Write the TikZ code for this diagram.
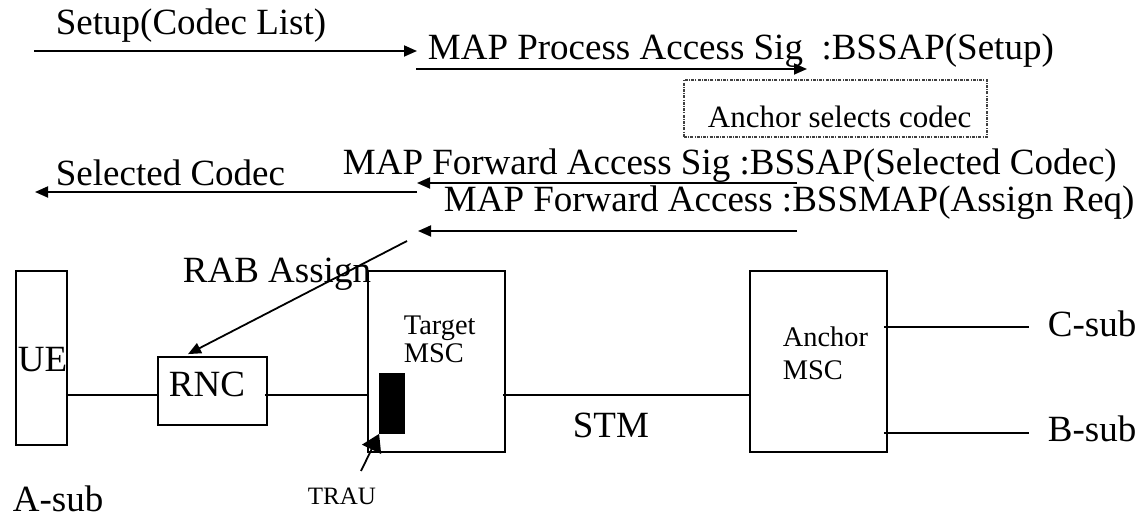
\documentclass[tikz,border=0pt]{standalone}
\usepackage{fontspec}
\setmainfont{Liberation Serif}
\usetikzlibrary{arrows.meta}

\begin{document}
\begin{tikzpicture}[x=0.5pt,y=-0.5pt,line width=0.9pt,
  txt/.style={font=\fontsize{18.5}{22}\selectfont,inner sep=0pt,anchor=base west},
  sml/.style={font=\fontsize{14.2}{14}\selectfont,inner sep=0pt,anchor=base west,align=left},
  box/.style={draw,inner sep=0pt},
  msg/.style={-{Triangle[length=6.5pt,width=5.5pt]}},
  dotbox/.style={draw=black!75,line width=0.6pt,inner sep=0pt,
    dash pattern=on 1.5pt off 0.6pt on 0.5pt off 0.6pt}]
  \useasboundingbox (0,0) rectangle (1148,518);

  % Network elements
  \node[box,minimum width=25.5pt,minimum height=87pt] (ue) at (41.5,358) {};
  \node[box,minimum width=54.5pt,minimum height=34pt] (rnc) at (212.5,391) {};
  \node[box,minimum width=68.5pt,minimum height=90.5pt] (tgt) at (436.5,361.5) {};
  \node[box,minimum width=68.5pt,minimum height=90.5pt] (anc) at (818.5,361.5) {};
  \node[box,fill=black,minimum width=12pt,minimum height=29.5pt] (trau) at (392,403.5) {};

  \node[txt] (uelbl) at (17,372) {UE};
  \node[txt] (rnclbl) at (168,397) {RNC};
  \node[sml] (tgtlbl) at (403,363) {Target\\MSC};
  \node[sml,font=\fontsize{14.2}{16.5}\selectfont] (anclbl) at (782,380) {Anchor\\MSC};
  \node[txt,font=\fontsize{12.5}{14}\selectfont] (traulbl) at (307,505) {TRAU};
  \node[txt] (asub) at (12,512) {A-sub};
  \node[txt] (stm) at (572,438) {STM};
  \node[txt] (csub) at (1047,337) {C-sub};
  \node[txt] (bsub) at (1047,442) {B-sub};

  % Links
  \coordinate (lnk) at (0,395);
  \coordinate (cend) at (1029,327);
  \coordinate (bend) at (1029,433);
  \draw ([xshift=-1pt]ue.east |- lnk) -- (rnc.west |- lnk);
  \draw ([xshift=-1.5pt]rnc.east |- lnk) -- (tgt.west |- lnk);
  \draw ([xshift=-1.5pt]tgt.east |- lnk) -- (anc.west |- lnk);
  \draw ([xshift=-2pt]anc.east |- cend) -- (cend);
  \draw ([xshift=-2pt]anc.east |- bend) -- (bend);

  % TRAU pointer
  \coordinate (trautail) at (361,471);
  \draw[-{Triangle[length=8.6pt,width=10.5pt]}] (trautail) -- (trau.south west);

  % Messages
  \coordinate (m1s) at (34,51);   \coordinate (m1e) at (417,51);
  \coordinate (m2s) at (416,69);  \coordinate (m2e) at (807,69);
  \coordinate (m3s) at (797,183); \coordinate (m3e) at (417,183);
  \coordinate (m4s) at (417,192); \coordinate (m4e) at (35,192);
  \coordinate (m5s) at (797,231); \coordinate (m5e) at (418,231);
  \coordinate (rabs) at (407,241);

  \draw[msg] (m1s) -- (m1e);
  \draw[msg] (m2s) -- (m2e);
  \draw[msg] (m3s) -- (m3e);
  \draw[msg] (m4s) -- (m4e);
  \draw[msg] (m5s) -- (m5e);
  \draw[msg] (rabs) -- ([xshift=-12.25pt,yshift=1pt]rnc.north);

  \node[txt] (setup) at (55,35) {Setup(Codec List)};
  \node[txt] (proc) at (427,60) {MAP Process Access Sig~ :BSSAP(Setup)};
  \node[dotbox,minimum width=151.5pt,minimum height=28.5pt] (sel) at (835.5,108.5) {};
  \node[txt,font=\fontsize{15.5}{18}\selectfont] (sellbl) at (707,128) {Anchor selects codec};
  \node[txt] (fwd1) at (342,175) {MAP Forward Access Sig :BSSAP(Selected Codec)};
  \node[txt] (selc) at (55,186) {Selected Codec};
  \node[txt] (fwd2) at (443,212) {MAP Forward Access :BSSMAP(Assign Req)};
  \node[txt] (rab) at (182,283) {RAB Assign};
\end{tikzpicture}
\end{document}
